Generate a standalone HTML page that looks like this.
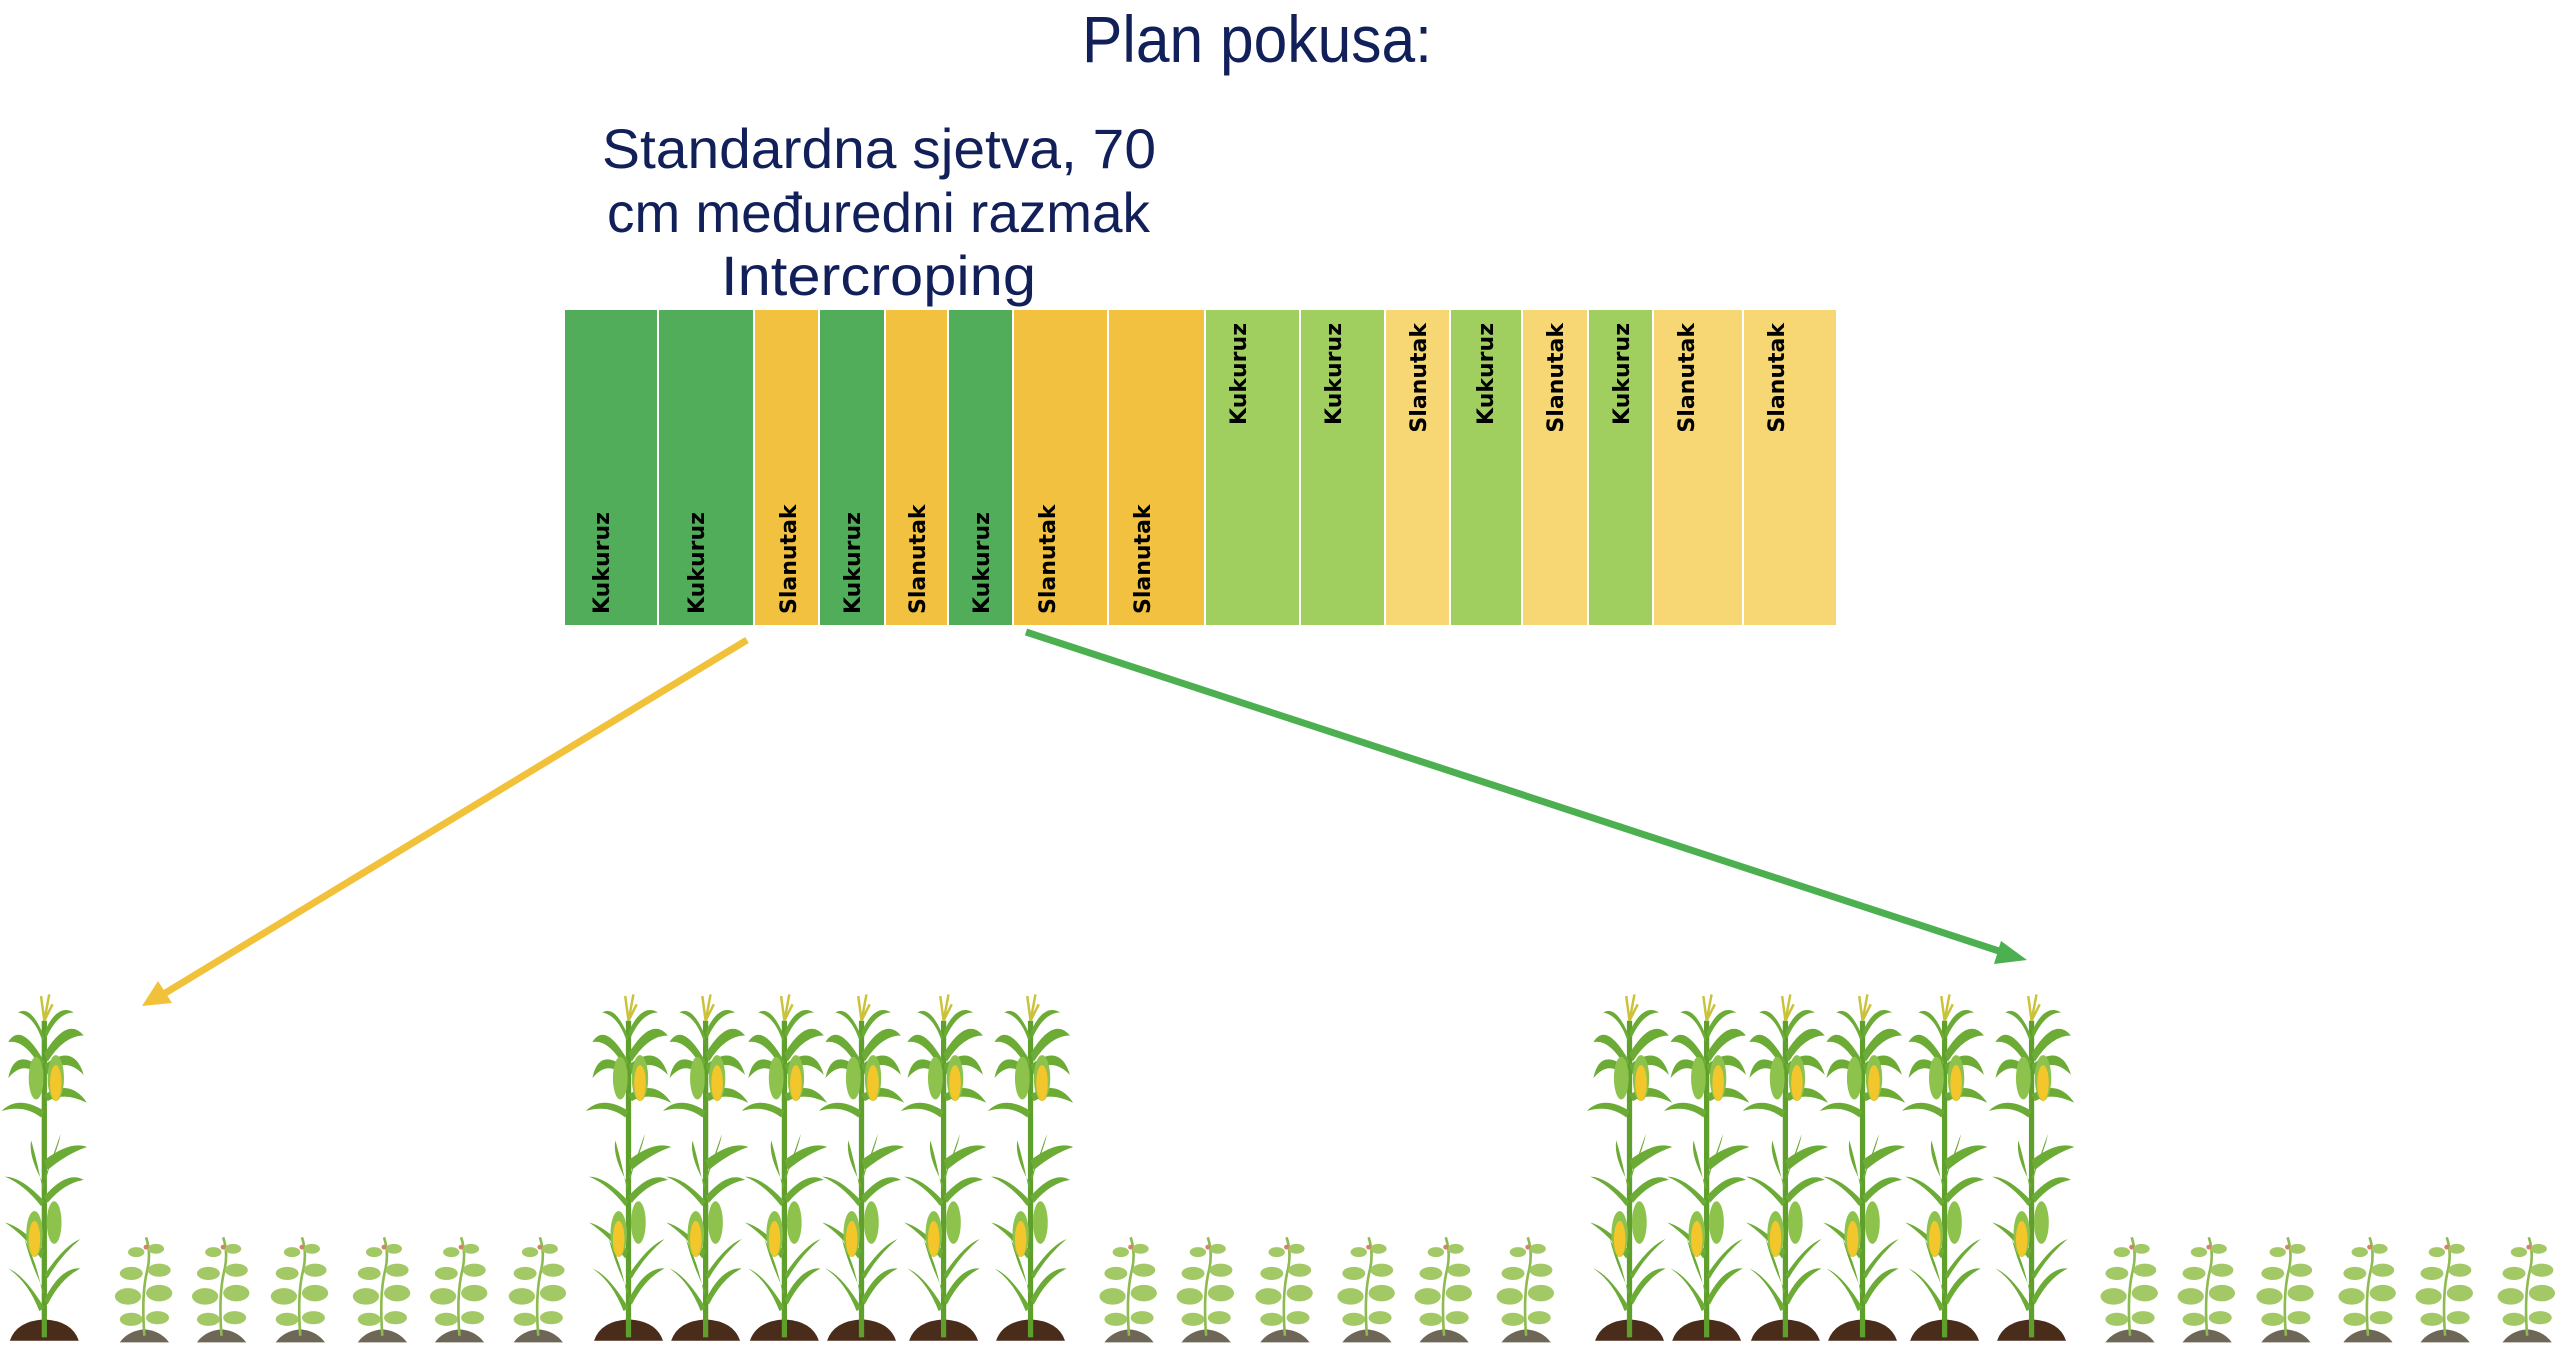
<!DOCTYPE html>
<html><head><meta charset="utf-8"><style>
html,body{margin:0;padding:0;background:#fff;width:2560px;height:1362px;overflow:hidden}
svg{display:block}
</style></head><body>
<svg width="2560" height="1362" viewBox="0 0 2560 1362" xmlns="http://www.w3.org/2000/svg">
<defs>
<g id="corn">
  <path d="M-21,0 Q-17,-12 0,-13 Q17,-12 21,0 Z" fill="#4a2c1a"/>
  <path d="M0,-2 L0,-195" stroke="#5f9f2c" stroke-width="3.2" fill="none"/>
  <g fill="#6cab35">
    <path d="M0,-20 Q-12,-40 -22,-44 Q-10,-36 -3,-18Z"/>
    <path d="M0,-25 Q10,-45 22,-44 Q10,-38 2,-22Z"/>
    <path d="M0,-30 Q-8,-46 -12,-62 Q-4,-46 -1,-28Z"/>
    <path d="M0,-40 Q12,-58 22,-62 Q10,-52 2,-38Z"/>
    <path d="M0,-55 Q-15,-70 -24,-72 Q-12,-64 -2,-50Z"/>
    <path d="M0,-85 Q-14,-100 -24,-100 Q-12,-95 -2,-82Z"/>
    <path d="M0,-88 Q14,-104 24,-98 Q12,-96 2,-84Z"/>
    <path d="M0,-95 Q-10,-112 -8,-122 Q-4,-108 -1,-92Z"/>
    <path d="M0,-100 Q8,-115 10,-126 Q4,-110 1,-98Z"/>
    <path d="M0,-110 Q16,-122 26,-118 Q14,-114 2,-104Z"/>
    <path d="M0,-140 Q-16,-150 -26,-140 Q-12,-144 -2,-136Z"/>
    <path d="M0,-150 Q16,-160 26,-145 Q12,-152 2,-146Z"/>
    <path d="M0,-165 Q-18,-180 -22,-160 Q-12,-172 -2,-160Z"/>
    <path d="M0,-168 Q18,-182 24,-162 Q12,-174 2,-162Z"/>
    <path d="M0,-170 Q-14,-195 -22,-182 Q-12,-184 -2,-166Z"/>
    <path d="M0,-175 Q14,-198 24,-186 Q12,-186 2,-170Z"/>
    <path d="M0,-185 Q-8,-205 -16,-200 Q-6,-198 -1,-182Z"/>
    <path d="M0,-188 Q8,-206 18,-200 Q8,-200 1,-184Z"/>
  </g>
  <g fill="#8dc24c">
    <ellipse cx="-6" cy="-65" rx="5" ry="14"/>
    <ellipse cx="6" cy="-72" rx="4.5" ry="13"/>
    <ellipse cx="-5" cy="-160" rx="4.5" ry="13"/>
    <ellipse cx="7" cy="-160" rx="5" ry="14"/>
  </g>
  <ellipse cx="-6" cy="-62" rx="3.5" ry="11" fill="#f3c62b"/>
  <ellipse cx="7" cy="-157" rx="3.5" ry="11" fill="#f3c62b"/>
  <path d="M0,-195 L-2,-210 M0,-195 L3,-211 M0,-195 L5,-205" stroke="#c9c23a" stroke-width="1.5"/>
</g>
<g id="pea">
  <path d="M-15,0 Q-10,-7 0,-8 Q10,-7 15,0 Z" fill="#6e6757"/>
  <path d="M0,-4 Q-2,-30 2,-45 Q4,-55 1,-64" stroke="#8dbb50" stroke-width="1.6" fill="none"/>
  <g fill="#a3c966">
    <ellipse cx="-8" cy="-14" rx="7" ry="4"/>
    <ellipse cx="8" cy="-15" rx="7" ry="4"/>
    <ellipse cx="-10" cy="-28" rx="8" ry="5"/>
    <ellipse cx="9" cy="-30" rx="8" ry="5"/>
    <ellipse cx="-8" cy="-42" rx="7" ry="4"/>
    <ellipse cx="9" cy="-44" rx="7" ry="4"/>
    <ellipse cx="-5" cy="-55" rx="5" ry="3"/>
    <ellipse cx="7" cy="-57" rx="5" ry="3"/>
  </g>
  <circle cx="1" cy="-58" r="1.5" fill="#d8806a"/>
</g>
</defs>

<g font-family="'Comic Sans MS','Liberation Sans Narrow','Liberation Sans',sans-serif" fill="#12205a">
  <text x="1082" y="62" font-size="66" textLength="350" lengthAdjust="spacingAndGlyphs">Plan pokusa:</text>
  <text x="602" y="168" font-size="56" textLength="554" lengthAdjust="spacingAndGlyphs">Standardna sjetva, 70</text>
  <text x="607" y="232" font-size="56" textLength="543" lengthAdjust="spacingAndGlyphs">cm međuredni razmak</text>
  <text x="721" y="295" font-size="56" textLength="315" lengthAdjust="spacingAndGlyphs">Intercroping</text>
</g>

<g stroke="#fff" stroke-width="2">
  <rect x="564" y="309" width="94" height="317" fill="#52ad5a"/>
  <rect x="658" y="309" width="96" height="317" fill="#52ad5a"/>
  <rect x="754" y="309" width="65" height="317" fill="#f2c140"/>
  <rect x="819" y="309" width="66" height="317" fill="#52ad5a"/>
  <rect x="885" y="309" width="63" height="317" fill="#f2c140"/>
  <rect x="948" y="309" width="65" height="317" fill="#52ad5a"/>
  <rect x="1013" y="309" width="95" height="317" fill="#f2c140"/>
  <rect x="1108" y="309" width="97" height="317" fill="#f2c140"/>
  <rect x="1205" y="309" width="95" height="317" fill="#a0cf60"/>
  <rect x="1300" y="309" width="85" height="317" fill="#a0cf60"/>
  <rect x="1385" y="309" width="65" height="317" fill="#f7d774"/>
  <rect x="1450" y="309" width="72" height="317" fill="#a0cf60"/>
  <rect x="1522" y="309" width="66" height="317" fill="#f7d774"/>
  <rect x="1588" y="309" width="65" height="317" fill="#a0cf60"/>
  <rect x="1653" y="309" width="90" height="317" fill="#f7d774"/>
  <rect x="1743" y="309" width="94" height="317" fill="#f7d774"/>
</g>
<g font-family="'DejaVu Sans','Liberation Sans',sans-serif" font-weight="bold" font-size="22" fill="#000">
  <text transform="translate(609,614) rotate(-90)">Kukuruz</text>
  <text transform="translate(704,614) rotate(-90)">Kukuruz</text>
  <text transform="translate(796,614) rotate(-90)">Slanutak</text>
  <text transform="translate(860,614) rotate(-90)">Kukuruz</text>
  <text transform="translate(925,614) rotate(-90)">Slanutak</text>
  <text transform="translate(989,614) rotate(-90)">Kukuruz</text>
  <text transform="translate(1055,614) rotate(-90)">Slanutak</text>
  <text transform="translate(1150,614) rotate(-90)">Slanutak</text>
  <text transform="translate(1246,323) rotate(-90)" text-anchor="end">Kukuruz</text>
  <text transform="translate(1341,323) rotate(-90)" text-anchor="end">Kukuruz</text>
  <text transform="translate(1426,323) rotate(-90)" text-anchor="end">Slanutak</text>
  <text transform="translate(1493,323) rotate(-90)" text-anchor="end">Kukuruz</text>
  <text transform="translate(1563,323) rotate(-90)" text-anchor="end">Slanutak</text>
  <text transform="translate(1629,323) rotate(-90)" text-anchor="end">Kukuruz</text>
  <text transform="translate(1694,323) rotate(-90)" text-anchor="end">Slanutak</text>
  <text transform="translate(1784,323) rotate(-90)" text-anchor="end">Slanutak</text>
</g>

<line x1="747" y1="640" x2="162" y2="995" stroke="#f2c13a" stroke-width="7"/>
<polygon points="142,1006 158,981 172,1003" fill="#f2c13a"/>
<line x1="1026" y1="632" x2="2005" y2="953" stroke="#4caf50" stroke-width="7"/>
<polygon points="2027,960 2001,941 1994,964" fill="#4caf50"/>

<g transform="scale(1.641)">
  <use href="#corn" x="27" y="817"/>
  <use href="#corn" x="383" y="817"/><use href="#corn" x="430" y="817"/><use href="#corn" x="478" y="817"/>
  <use href="#corn" x="525" y="817"/><use href="#corn" x="575" y="817"/><use href="#corn" x="628" y="817"/>
  <use href="#corn" x="993" y="817"/><use href="#corn" x="1040" y="817"/><use href="#corn" x="1088" y="817"/>
  <use href="#corn" x="1135" y="817"/><use href="#corn" x="1185" y="817"/><use href="#corn" x="1238" y="817"/>
  <use href="#pea" x="88" y="818"/><use href="#pea" x="135" y="818"/><use href="#pea" x="183" y="818"/>
  <use href="#pea" x="233" y="818"/><use href="#pea" x="280" y="818"/><use href="#pea" x="328" y="818"/>
  <use href="#pea" x="688" y="818"/><use href="#pea" x="735" y="818"/><use href="#pea" x="783" y="818"/>
  <use href="#pea" x="833" y="818"/><use href="#pea" x="880" y="818"/><use href="#pea" x="930" y="818"/>
  <use href="#pea" x="1298" y="818"/><use href="#pea" x="1345" y="818"/><use href="#pea" x="1393" y="818"/>
  <use href="#pea" x="1443" y="818"/><use href="#pea" x="1490" y="818"/><use href="#pea" x="1540" y="818"/>
</g>
</svg>
</body></html>
